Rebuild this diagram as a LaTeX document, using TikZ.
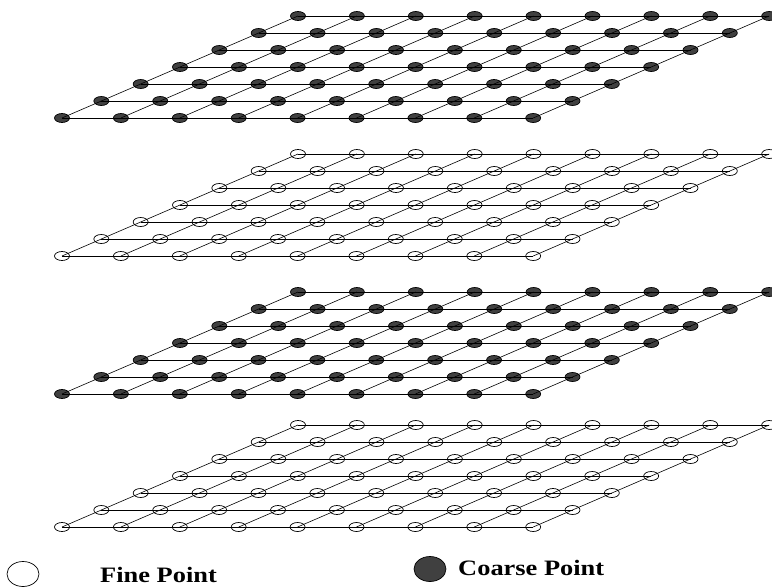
\documentclass[tikz,border=0pt]{standalone}
\usepackage{fontspec}
\setmainfont{Liberation Serif}
\usetikzlibrary{shapes.geometric}
\definecolor{coarsegray}{HTML}{404040}
\tikzset{
  pt/.style={ellipse, draw=black, line width=0.7pt, inner sep=0pt,
             minimum width=15pt, minimum height=9pt},
  fine/.style={pt},
  coarse/.style={pt, fill=coarsegray},
  gridline/.style={draw=black, line width=0.6pt},
  keymark/.style={ellipse, draw=black, line width=0.7pt, inner sep=0pt,
                  minimum width=32pt, minimum height=25pt},
  legendtext/.style={font=\bfseries\fontsize{22}{26}\selectfont, inner sep=0pt,
                     anchor=base west, xscale=1.2, transform shape}
}
\begin{document}
\begin{tikzpicture}[x=1pt,y=-1pt]
  \useasboundingbox (0,0) rectangle (772,587);
  % four stacked grids: 7 rows x 9 columns, sheared in perspective
  \foreach \L/\fy/\kind in {1/118/coarse, 2/256/fine, 3/394/coarse, 4/527/fine}{
    \foreach \r in {0,...,6}{
      \foreach \c in {0,...,8}{
        \pgfmathsetmacro{\px}{62 + 58.9*\c + 39.33*\r}
        \pgfmathsetmacro{\py}{\fy - 17*\r}
        \node[\kind] (g\L-\r-\c) at (\px,\py) {};
      }
    }
    \foreach \r in {0,...,6}{
      \draw[gridline] (g\L-\r-0.center) -- (g\L-\r-8.center);
    }
    \foreach \c in {0,...,8}{
      \draw[gridline] (g\L-0-\c.center) -- (g\L-6-\c.center);
    }
  }
  % legend
  \node[keymark] (finekey) at (23,574) {};
  \node[legendtext] (finelabel) at (100,582) {Fine Point};
  \node[keymark, fill=coarsegray] (coarsekey) at (430,569) {};
  \node[legendtext] (coarselabel) at (458,575) {Coarse Point};
\end{tikzpicture}
\end{document}
